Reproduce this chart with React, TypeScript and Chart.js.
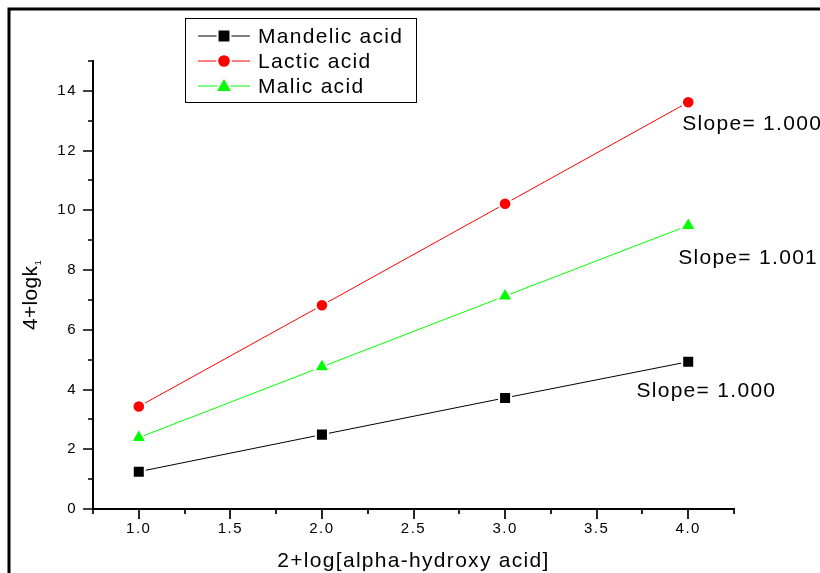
import { useEffect, useRef } from 'react';
import { Chart, registerables } from 'chart.js';

Chart.register(...registerables);

// ---- data ----
const xValues = [1.0, 2.0, 3.0, 4.0];
const mandelic = [1.25, 2.49, 3.72, 4.93];
const lactic = [3.43, 6.82, 10.22, 13.62];
const malic = [2.39, 4.76, 7.13, 9.49];
const seriesLabels = ['Mandelic acid', 'Lactic acid', 'Malic acid'];

const xMajorTicks = [1.0, 1.5, 2.0, 2.5, 3.0, 3.5, 4.0];
const xMinorTicks = [0.75, 1.25, 1.75, 2.25, 2.75, 3.25, 3.75, 4.25];
const yMajorTicks = [0, 2, 4, 6, 8, 10, 12, 14];
const yMinorTicks = [1, 3, 5, 7, 9, 11, 13, 15];

const slopeLabels = ['Slope= 1.000', 'Slope= 1.001', 'Slope= 1.000'];
const slopeX = [3.967, 3.945, 3.717];
const slopeY = [12.69, 8.2, 3.75];

const xTitle = '2+log[alpha-hydroxy acid]';
const yTitle = '4+logk';
const yTitleSub = '1';

const FONT = '"Liberation Sans", Arial, Helvetica, sans-serif';

function toPoints(ys: number[]) {
  return xValues.map((x, i) => ({ x, y: ys[i] }));
}

function drawMarker(ctx: CanvasRenderingContext2D, style: string, x: number, y: number, color: string, k: number) {
  ctx.save();
  ctx.fillStyle = color;
  ctx.strokeStyle = '#ffffff';
  ctx.lineWidth = 2;
  ctx.beginPath();
  if (style === 'rect') {
    const s = 6.8 * k;
    ctx.rect(x - s, y - s, 2 * s, 2 * s);
  } else if (style === 'circle') {
    ctx.arc(x, y, 7.2 * k, 0, Math.PI * 2);
  } else {
    const r = 10.5 * k;
    ctx.moveTo(x, y - r);
    ctx.lineTo(x + r * 0.866, y + r / 2);
    ctx.lineTo(x - r * 0.866, y + r / 2);
    ctx.closePath();
  }
  ctx.fill();
  ctx.stroke();
  ctx.restore();
}

const decorPlugin = {
  id: 'decor',
  beforeDraw(chart: any) {
    (chart.ctx as any).letterSpacing = '1.5px';
  },
  afterDraw(chart: any) {
    const ctx: CanvasRenderingContext2D = chart.ctx;
    const xs = chart.scales.x;
    const ys = chart.scales.y;
    const area = chart.chartArea;
    ctx.save();
    (ctx as any).letterSpacing = '0px';

    // outer frame
    ctx.strokeStyle = '#000';
    ctx.lineWidth = 3;
    ctx.strokeRect(9, 9, 1000, 1000);

    // tick marks
    ctx.lineWidth = 1.7;
    ctx.beginPath();
    xMajorTicks.forEach((v) => {
      const p = Math.round(xs.getPixelForValue(v));
      ctx.moveTo(p, area.bottom);
      ctx.lineTo(p, area.bottom + 10);
    });
    xMinorTicks.forEach((v) => {
      const p = Math.round(xs.getPixelForValue(v));
      ctx.moveTo(p, area.bottom);
      ctx.lineTo(p, area.bottom + 5);
    });
    yMajorTicks.forEach((v) => {
      const p = Math.round(ys.getPixelForValue(v));
      ctx.moveTo(area.left, p);
      ctx.lineTo(area.left - 10, p);
    });
    yMinorTicks.forEach((v) => {
      const p = Math.round(ys.getPixelForValue(v));
      ctx.moveTo(area.left, p);
      ctx.lineTo(area.left - 5, p);
    });
    ctx.stroke();

    // slope annotations
    ctx.fillStyle = '#000';
    ctx.font = `21px ${FONT}`;
    (ctx as any).letterSpacing = '1.3px';
    ctx.textAlign = 'left';
    ctx.textBaseline = 'alphabetic';
    slopeLabels.forEach((t, i) => {
      ctx.fillText(t, xs.getPixelForValue(slopeX[i]), ys.getPixelForValue(slopeY[i]));
    });

    // x title
    ctx.textAlign = 'center';
    ctx.fillText(xTitle, (area.left + area.right) / 2, area.bottom + 58);

    // y title (rotated) with subscript
    ctx.save();
    (ctx as any).letterSpacing = '0.3px';
    ctx.translate(37, 330);
    ctx.rotate(-Math.PI / 2);
    ctx.textAlign = 'left';
    ctx.font = `21px ${FONT}`;
    ctx.fillText(yTitle, 0, 0);
    const w = ctx.measureText(yTitle).width;
    ctx.font = `9px ${FONT}`;
    ctx.fillText(yTitleSub, w + 0.5, 4);
    ctx.restore();

    // legend
    const bx = 185.5, by = 18.5, bw = 231, bh = 84;
    ctx.lineWidth = 1;
    ctx.strokeStyle = '#000';
    ctx.strokeRect(bx, by, bw, bh);
    ctx.font = `21px ${FONT}`;
    (ctx as any).letterSpacing = '1.3px';
    ctx.textAlign = 'left';
    chart.data.datasets.forEach((ds: any, i: number) => {
      const cy = 36 + i * 25;
      ctx.strokeStyle = ds.borderColor;
      ctx.lineWidth = 1;
      ctx.beginPath();
      ctx.moveTo(198, cy);
      ctx.lineTo(250, cy);
      ctx.stroke();
      drawMarker(ctx, ds.pointStyle, 224, cy + (ds.pointStyle === 'triangle' ? 1 : 0), ds.pointBackgroundColor, 0.95);
      ctx.fillStyle = '#000';
      ctx.fillText(ds.label, 258, cy + 7.3);
    });

    ctx.restore();
  },
};

export default function App() {
  const ref = useRef<HTMLCanvasElement>(null);

  useEffect(() => {
    const canvas = ref.current;
    if (!canvas) return;
    const chart = new Chart(canvas, {
      type: 'scatter',
      data: {
        datasets: [
          {
            label: seriesLabels[0],
            data: toPoints(mandelic),
            showLine: true,
            borderColor: '#000000',
            borderWidth: 1,
            pointStyle: 'rect',
            pointRadius: 8.5,
            pointBackgroundColor: '#000000',
            pointBorderColor: '#ffffff',
            pointBorderWidth: 2,
          },
          {
            label: seriesLabels[1],
            data: toPoints(lactic),
            showLine: true,
            borderColor: '#ff0000',
            borderWidth: 1,
            pointStyle: 'circle',
            pointRadius: 6.3,
            pointBackgroundColor: '#ff0000',
            pointBorderColor: '#ffffff',
            pointBorderWidth: 2,
          },
          {
            label: seriesLabels[2],
            data: toPoints(malic),
            showLine: true,
            borderColor: '#00ff00',
            borderWidth: 1,
            pointStyle: 'triangle',
            pointRadius: 9,
            pointBackgroundColor: '#00ff00',
            pointBorderColor: '#ffffff',
            pointBorderWidth: 2,
          },
        ],
      },
      options: {
        responsive: false,
        animation: false,
        devicePixelRatio: 1,
        layout: { padding: { left: 0, top: 61, right: 86, bottom: 0 } },
        plugins: {
          legend: { display: false },
          tooltip: { enabled: false },
        },
        scales: {
          x: {
            type: 'linear',
            min: 0.75,
            max: 4.25,
            afterBuildTicks: (s: any) => {
              s.ticks = xMajorTicks.map((v) => ({ value: v }));
            },
            afterFit: (s: any) => {
              s.height = 64;
            },
            grid: { display: false, drawTicks: true, tickLength: 10 },
            border: { display: true, color: '#000', width: 2 },
            ticks: {
              autoSkip: false,
              maxRotation: 0,
              padding: 1,
              color: '#000',
              font: { family: FONT, size: 15 },
              callback: (v: any) => Number(v).toFixed(1),
            },
          },
          y: {
            type: 'linear',
            min: 0,
            max: 15,
            afterBuildTicks: (s: any) => {
              s.ticks = yMajorTicks.map((v) => ({ value: v }));
            },
            afterFit: (s: any) => {
              s.width = 93;
            },
            grid: { display: false, drawTicks: true, tickLength: 10 },
            border: { display: true, color: '#000', width: 2 },
            ticks: {
              autoSkip: false,
              padding: 6,
              color: '#000',
              font: { family: FONT, size: 15 },
              callback: (v: any) => String(v),
            },
          },
        },
      },
      plugins: [decorPlugin],
    });
    return () => chart.destroy();
  }, []);

  return (
    <div style={{ position: 'absolute', left: 0, top: 0, width: 820, height: 573, background: '#fff' }}>
      <canvas ref={ref} width={820} height={573} style={{ display: 'block' }} />
    </div>
  );
}
